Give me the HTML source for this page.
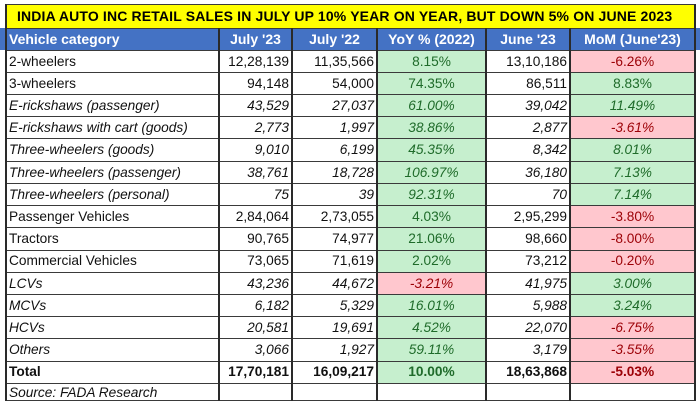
<!DOCTYPE html>
<html><head><meta charset="utf-8">
<style>
*{margin:0;padding:0;box-sizing:border-box}
html,body{width:700px;height:403px;background:#fff;overflow:hidden}
#w{position:relative;width:700px;height:403px;background:#fff;font-family:"Liberation Sans",Arial,sans-serif;color:#111}
.r{position:absolute;left:0;width:700px}
.c{position:absolute;top:0;height:100%;white-space:nowrap;font-size:13.7px;display:flex;align-items:center;overflow:visible}
.a{left:6px;width:213px;padding-left:3px}
.b{left:219px;width:73px;justify-content:flex-end;padding-right:3px}
.d{left:292px;width:85px;justify-content:flex-end;padding-right:3px}
.e{left:377px;width:109px;justify-content:center}
.f{left:486px;width:84px;justify-content:flex-end;padding-right:3px}
.g{left:570px;width:125px;justify-content:center}
.G{background:#c6efce;color:#1f6b2a}
.R{background:#ffc7ce;color:#9c0006}
.i .c{font-style:italic}
.t .c{font-weight:bold}
.h{background:#4472c4}
.h .c{color:#fff;font-weight:bold;font-size:14px;justify-content:center;padding:0}
.h .a{justify-content:flex-start;padding-left:3px}
.hl{position:absolute;left:6px;width:690px;height:1px;background:#3a3a3a}
.vl{position:absolute;width:2px;background:#2a2a2a}
</style></head><body><div id="w">
<div style="position:absolute;left:6px;top:4px;width:690px;height:24px;background:#ffff00;font-weight:bold;font-size:14px;letter-spacing:0.15px;line-height:24px;padding-left:11px;white-space:nowrap;color:#000">INDIA AUTO INC RETAIL SALES IN JULY UP 10% YEAR ON YEAR, BUT DOWN 5% ON JUNE 2023</div>

<div class="r h" style="top:28px;height:22px"><div class="c a">Vehicle category</div><div class="c b">July '23</div><div class="c d">July '22</div><div class="c e">YoY % (2022)</div><div class="c f">June '23</div><div class="c g">MoM (June'23)</div></div>

<div class="r" style="top:50px;height:22.2px"><div class="c a">2-wheelers</div><div class="c b">12,28,139</div><div class="c d">11,35,566</div><div class="c e G">8.15%</div><div class="c f">13,10,186</div><div class="c g R">-6.26%</div></div>
<div class="r" style="top:72.2px;height:22.2px"><div class="c a">3-wheelers</div><div class="c b">94,148</div><div class="c d">54,000</div><div class="c e G">74.35%</div><div class="c f">86,511</div><div class="c g G">8.83%</div></div>
<div class="r i" style="top:94.4px;height:22.2px"><div class="c a">E-rickshaws (passenger)</div><div class="c b">43,529</div><div class="c d">27,037</div><div class="c e G">61.00%</div><div class="c f">39,042</div><div class="c g G">11.49%</div></div>
<div class="r i" style="top:116.6px;height:22.2px"><div class="c a">E-rickshaws with cart (goods)</div><div class="c b">2,773</div><div class="c d">1,997</div><div class="c e G">38.86%</div><div class="c f">2,877</div><div class="c g R">-3.61%</div></div>
<div class="r i" style="top:138.8px;height:22.2px"><div class="c a">Three-wheelers (goods)</div><div class="c b">9,010</div><div class="c d">6,199</div><div class="c e G">45.35%</div><div class="c f">8,342</div><div class="c g G">8.01%</div></div>
<div class="r i" style="top:161px;height:22.2px"><div class="c a">Three-wheelers (passenger)</div><div class="c b">38,761</div><div class="c d">18,728</div><div class="c e G">106.97%</div><div class="c f">36,180</div><div class="c g G">7.13%</div></div>
<div class="r i" style="top:183.2px;height:22.2px"><div class="c a">Three-wheelers (personal)</div><div class="c b">75</div><div class="c d">39</div><div class="c e G">92.31%</div><div class="c f">70</div><div class="c g G">7.14%</div></div>
<div class="r" style="top:205.4px;height:22.2px"><div class="c a">Passenger Vehicles</div><div class="c b">2,84,064</div><div class="c d">2,73,055</div><div class="c e G">4.03%</div><div class="c f">2,95,299</div><div class="c g R">-3.80%</div></div>
<div class="r" style="top:227.6px;height:22.2px"><div class="c a">Tractors</div><div class="c b">90,765</div><div class="c d">74,977</div><div class="c e G">21.06%</div><div class="c f">98,660</div><div class="c g R">-8.00%</div></div>
<div class="r" style="top:249.8px;height:22.2px"><div class="c a">Commercial Vehicles</div><div class="c b">73,065</div><div class="c d">71,619</div><div class="c e G">2.02%</div><div class="c f">73,212</div><div class="c g R">-0.20%</div></div>
<div class="r i" style="top:272px;height:22.2px"><div class="c a">LCVs</div><div class="c b">43,236</div><div class="c d">44,672</div><div class="c e R">-3.21%</div><div class="c f">41,975</div><div class="c g G">3.00%</div></div>
<div class="r i" style="top:294.2px;height:22.2px"><div class="c a">MCVs</div><div class="c b">6,182</div><div class="c d">5,329</div><div class="c e G">16.01%</div><div class="c f">5,988</div><div class="c g G">3.24%</div></div>
<div class="r i" style="top:316.4px;height:22.2px"><div class="c a">HCVs</div><div class="c b">20,581</div><div class="c d">19,691</div><div class="c e G">4.52%</div><div class="c f">22,070</div><div class="c g R">-6.75%</div></div>
<div class="r i" style="top:338.6px;height:22.2px"><div class="c a">Others</div><div class="c b">3,066</div><div class="c d">1,927</div><div class="c e G">59.11%</div><div class="c f">3,179</div><div class="c g R">-3.55%</div></div>
<div class="r t" style="top:360.8px;height:22.2px"><div class="c a">Total</div><div class="c b">17,70,181</div><div class="c d">16,09,217</div><div class="c e G">10.00%</div><div class="c f">18,63,868</div><div class="c g R">-5.03%</div></div>
<div class="r i" style="top:383px;height:18px"><div class="c a">Source: FADA Research</div></div>

<div class="hl" style="top:4px"></div>
<div class="hl" style="top:28px"></div>
<div class="hl" style="top:50px"></div>
<div class="hl" style="top:72px"></div>
<div class="hl" style="top:94px"></div>
<div class="hl" style="top:116px"></div>
<div class="hl" style="top:138px"></div>
<div class="hl" style="top:160.5px"></div>
<div class="hl" style="top:183px"></div>
<div class="hl" style="top:205px"></div>
<div class="hl" style="top:227px"></div>
<div class="hl" style="top:249.5px"></div>
<div class="hl" style="top:272px"></div>
<div class="hl" style="top:294px"></div>
<div class="hl" style="top:316px"></div>
<div class="hl" style="top:338px"></div>
<div class="hl" style="top:360.5px"></div>
<div class="hl" style="top:383px"></div>
<div class="hl" style="top:400px"></div>

<div class="vl" style="left:5px;top:4px;height:397px"></div>
<div class="vl" style="left:694px;top:4px;height:397px"></div>
<div class="vl" style="left:218px;top:28px;height:373px"></div>
<div class="vl" style="left:291px;top:28px;height:373px"></div>
<div class="vl" style="left:376px;top:28px;height:373px"></div>
<div class="vl" style="left:485px;top:28px;height:373px"></div>
<div class="vl" style="left:569px;top:28px;height:373px"></div>
</div></body></html>
